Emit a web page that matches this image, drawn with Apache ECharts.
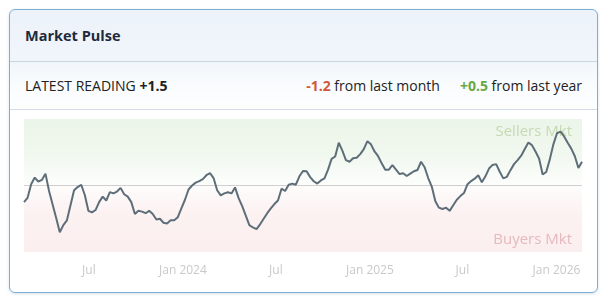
<!DOCTYPE html>
<html>
<head>
<meta charset="utf-8">
<script src="https://cdn.jsdelivr.net/npm/echarts@6/dist/echarts.min.js"></script>
<style>
  html, body { margin:0; padding:0; width:611px; height:308px; background:#fff; overflow:hidden; font-family:"Open Sans", sans-serif; }
  #card { position:absolute; left:9px; top:9px; width:589px; height:284px; box-sizing:border-box;
    border:1px solid #7eaed3; border-radius:6px;
    background:linear-gradient(to bottom, #ecf2f9 0px, #f1f6fb 52px, #f8fbfd 70px, #ffffff 105px);
    box-shadow:0 1px 3px rgba(90,130,170,0.25); }
  #hdr { position:absolute; left:0; top:0; right:0; height:51px; border-bottom:1px solid #c9d7e3; }
  #title { position:absolute; left:15px; top:0; line-height:51px; font-size:14.5px; font-weight:700; color:#1f2b3c; }
  #row { position:absolute; left:0; top:52px; right:0; height:47px; border-bottom:1px solid #d3dde7; font-size:14px; color:#222; }
  #latest { position:absolute; left:15px; top:0; line-height:47px; }
  #changes { position:absolute; right:15px; top:0; line-height:47px; }
  .b { font-weight:700; }
  .neg { color:#d0593a; font-weight:700; }
  .pos { color:#6aa843; font-weight:700; }
  .gap { display:inline-block; width:20px; }
  #chart { position:absolute; left:0; top:0; width:611px; height:308px; }
</style>
</head>
<body>
<div id="card">
  <div id="hdr"><div id="title">Market Pulse</div></div>
  <div id="row">
    <div id="latest">LATEST READING <span class="b">+1.5</span></div>
    <div id="changes"><span class="neg">-1.2</span> from last month<span class="gap"></span><span class="pos">+0.5</span> from last year</div>
  </div>
</div>
<div id="chart"></div>
<script>
// Weekly readings starting 2023-02-24
const startDate = [2023, 1, 24];
const values = [
  -1.05, -0.78, 0.08, 0.5, 0.25, 0.35, 0.75, -0.35, -1.2, -2.05,
  -2.95, -2.5, -2.2, -1.25, -0.3, -0.1, 0.05, -0.6, -1.6, -1.7,
  -1.55, -1.05, -0.7, -0.95, -0.42, -0.5, -0.38, -0.15, -0.55, -0.7,
  -1.05, -1.8, -1.6, -1.65, -1.75, -1.6, -1.8, -2.15, -2.1, -2.35,
  -2.4, -2.2, -2.2, -2.0, -1.45, -0.9, -0.25, 0.0, 0.18, 0.28,
  0.4, 0.65, 0.78, 0.47, -0.3, -0.62, -0.5, -0.43, -0.5, -0.12,
  -0.8, -1.3, -1.9, -2.5, -2.65, -2.75, -2.45, -2.1, -1.75, -1.45,
  -1.17, -0.95, -0.2, -0.35, 0.05, 0.12, 0.05, 0.58, 0.92, 0.9,
  0.53, 0.27, 0.12, 0.32, 0.45, 1.0, 1.68, 1.83, 2.7, 2.2,
  1.6, 1.5, 1.72, 1.75, 1.98, 2.3, 2.8, 2.6, 2.15, 1.85,
  1.4, 1.0, 1.0, 1.28, 1.0, 0.72, 0.77, 0.6, 0.75, 0.9,
  0.98, 1.5, 1.15, 0.47, -0.07, -1.0, -1.4, -1.48, -1.4, -1.6,
  -1.25, -0.9, -0.67, -0.48, 0.08, 0.28, 0.43, 0.65, 0.2, 0.58,
  1.07, 1.3, 1.35, 0.87, 0.45, 0.55, 0.97, 1.35, 1.6, 1.88,
  2.3, 2.72, 2.55, 2.15, 1.7, 0.7, 0.85, 1.65, 2.6, 3.3,
  3.4, 3.1, 2.7, 2.33, 1.85, 1.1, 1.5
];
const tickDates = [[2023,6,1],[2024,0,1],[2024,6,1],[2025,0,1],[2025,6,1],[2026,0,1]];
const tickLabels = ['Jul', 'Jan 2024', 'Jul', 'Jan 2025', 'Jul', 'Jan 2026'];
const zoneLabels = ['Sellers Mkt', 'Buyers Mkt'];
const yMin = -4.2, yMax = 4.2;

const DAY = 864e5;
const t0 = Date.UTC(startDate[0], startDate[1], startDate[2]);
const data = values.map((v, i) => [t0 + i * 7 * DAY, v]);
const tickTs = tickDates.map(d => Date.UTC(d[0], d[1], d[2]));
const labelMap = {};
tickTs.forEach((t, i) => { labelMap[t] = tickLabels[i]; });

const chart = echarts.init(document.getElementById('chart'), null, { renderer: 'canvas' });
chart.setOption({
  animation: false,
  backgroundColor: 'transparent',
  grid: { left: 24, right: 29, top: 119, bottom: 56 },
  xAxis: {
    type: 'value',
    min: data[0][0],
    max: data[data.length - 1][0],
    axisLine: { show: false },
    axisTick: { show: false },
    splitLine: { show: false },
    axisLabel: {
      customValues: tickTs,
      formatter: v => labelMap[v] || '',
      color: '#c9c9c9',
      fontSize: 12,
      fontFamily: 'Open Sans',
      margin: 13,
      hideOverlap: false
    }
  },
  yAxis: {
    type: 'value',
    min: yMin, max: yMax, interval: 4.2,
    axisLine: { show: false },
    axisTick: { show: false },
    splitLine: { show: false },
    axisLabel: {
      inside: true,
      margin: 9,
      color: '#d6d6d6',
      fontSize: 12,
      fontFamily: 'Open Sans',
      formatter: v => (Math.abs(v) < 1e-9 ? '0' : '')
    }
  },
  series: [{
    type: 'line',
    data: data,
    showSymbol: false,
    symbol: 'none',
    lineStyle: { color: '#5e6e79', width: 2 },
    z: 5,
    markLine: {
      silent: true,
      symbol: 'none',
      label: { show: false },
      lineStyle: { color: '#cfcfcf', width: 1, type: 'solid' },
      data: [{ yAxis: 0 }]
    },
    markArea: {
      silent: true,
      label: { show: true, fontSize: 15, fontFamily: 'Open Sans' },
      data: [
        [{
          name: zoneLabels[0],
          yAxis: yMax,
          itemStyle: { color: new echarts.graphic.LinearGradient(0, 0, 0, 1, [
            { offset: 0, color: '#ecf5ea' },
            { offset: 0.55, color: '#f1f8ef' },
            { offset: 1, color: '#fdfefd' }
          ]) },
          label: { show: true, position: 'insideTopRight', color: '#c6dab3', fontSize: 15, offset: [-5, 0] }
        }, { yAxis: 0 }],
        [{
          name: zoneLabels[1],
          yAxis: 0,
          itemStyle: { color: new echarts.graphic.LinearGradient(0, 0, 0, 1, [
            { offset: 0, color: '#fefcfc' },
            { offset: 0.4, color: '#fcf2f2' },
            { offset: 1, color: '#fbeeee' }
          ]) },
          label: { show: true, position: 'insideBottomRight', color: '#e6b9bd', fontSize: 15, offset: [-5, 0] }
        }, { yAxis: yMin }]
      ]
    }
  }]
});
</script>
</body>
</html>
